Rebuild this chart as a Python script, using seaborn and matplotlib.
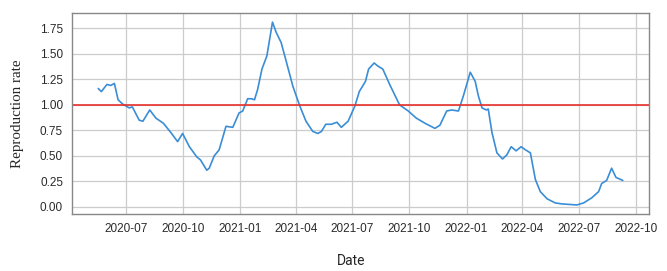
import pandas as pd
import seaborn as sns
import matplotlib.pyplot as plt
import matplotlib.dates as mdates

# reproduction rate
dates = ["2020-05-17", "2020-05-22", "2020-05-31", "2020-06-06", "2020-06-12",
         "2020-06-18", "2020-06-25", "2020-07-06", "2020-07-11", "2020-07-22",
         "2020-07-28", "2020-08-08", "2020-08-18", "2020-08-30", "2020-09-11",
         "2020-09-22", "2020-09-30", "2020-10-11", "2020-10-23", "2020-10-29",
         "2020-11-08", "2020-11-12", "2020-11-20", "2020-11-28", "2020-12-09",
         "2020-12-20", "2020-12-30", "2021-01-05", "2021-01-13", "2021-01-19",
         "2021-01-24", "2021-01-29", "2021-02-05", "2021-02-13", "2021-02-22",
         "2021-02-28", "2021-03-08", "2021-03-16", "2021-03-27", "2021-04-07",
         "2021-04-17", "2021-04-28", "2021-05-06", "2021-05-12", "2021-05-19",
         "2021-05-28", "2021-06-06", "2021-06-13", "2021-06-24", "2021-07-05",
         "2021-07-12", "2021-07-22", "2021-07-27", "2021-08-05", "2021-08-11",
         "2021-08-19", "2021-08-30", "2021-09-15", "2021-09-29", "2021-10-12",
         "2021-10-26", "2021-11-11", "2021-11-19", "2021-11-30", "2021-12-08",
         "2021-12-19", "2021-12-27", "2022-01-07", "2022-01-15", "2022-01-20",
         "2022-01-26", "2022-02-02", "2022-02-05", "2022-02-11", "2022-02-19",
         "2022-02-28", "2022-03-07", "2022-03-14", "2022-03-22", "2022-03-30",
         "2022-04-06", "2022-04-14", "2022-04-22", "2022-04-30", "2022-05-11",
         "2022-05-24", "2022-06-04", "2022-06-28", "2022-07-09", "2022-07-22",
         "2022-08-02", "2022-08-07", "2022-08-15", "2022-08-23", "2022-08-30",
         "2022-09-10"]
rates = [1.16, 1.13, 1.20, 1.19, 1.21,
         1.05, 1.01, 0.97, 0.98, 0.85,
         0.84, 0.95, 0.87, 0.82, 0.73,
         0.64, 0.72, 0.59, 0.49, 0.46,
         0.36, 0.38, 0.50, 0.56, 0.79,
         0.78, 0.92, 0.94, 1.06, 1.06,
         1.05, 1.15, 1.35, 1.48, 1.81,
         1.71, 1.61, 1.43, 1.18, 0.99,
         0.84, 0.74, 0.72, 0.74, 0.81,
         0.81, 0.83, 0.78, 0.84, 0.99,
         1.13, 1.23, 1.35, 1.41, 1.38,
         1.35, 1.20, 1.00, 0.94, 0.87,
         0.82, 0.77, 0.80, 0.94, 0.95,
         0.94, 1.09, 1.32, 1.23, 1.09,
         0.97, 0.95, 0.96, 0.73, 0.53,
         0.47, 0.51, 0.59, 0.55, 0.59,
         0.56, 0.53, 0.27, 0.15, 0.08,
         0.04, 0.03, 0.02, 0.04, 0.09,
         0.15, 0.23, 0.26, 0.38, 0.29,
         0.26]

df = pd.DataFrame({"Date": pd.to_datetime(dates), "rate": rates})

sns.set_theme(style="whitegrid")
plt.rcParams['font.family'] = ['Liberation Sans', 'DejaVu Sans']

fig, ax = plt.subplots(figsize=(6.67, 2.71), dpi=100)
fig.subplots_adjust(left=0.108, right=0.973, bottom=0.21, top=0.952)

sns.lineplot(data=df, x="Date", y="rate", ax=ax, color="#3a8dd6", linewidth=1.2)
ax.axhline(1.0, color="#e8302a", linewidth=1.2)

ax.xaxis.set_major_locator(mdates.MonthLocator(bymonth=[1, 4, 7, 10]))
ax.xaxis.set_major_formatter(mdates.DateFormatter("%Y-%m"))
ax.set_yticks([0, 0.25, 0.5, 0.75, 1.0, 1.25, 1.5, 1.75])

ax.tick_params(axis="both", labelsize=8.5, length=3, color="#888888", colors="#2a2a2a")
ax.grid(color="#cccccc", linewidth=0.9)
for s in ax.spines.values():
    s.set_color("#888888")
    s.set_linewidth(1.0)

ax.set_xlabel("Date", fontsize=10, family=["Roboto"])
ax.xaxis.set_label_coords(0.483, -0.2)
ax.set_ylabel("Reproduction rate", fontsize=10.8, family=["Liberation Serif"])
ax.yaxis.set_label_coords(-0.083, 0.5)

plt.savefig("out.png", dpi=100)
plt.close()
